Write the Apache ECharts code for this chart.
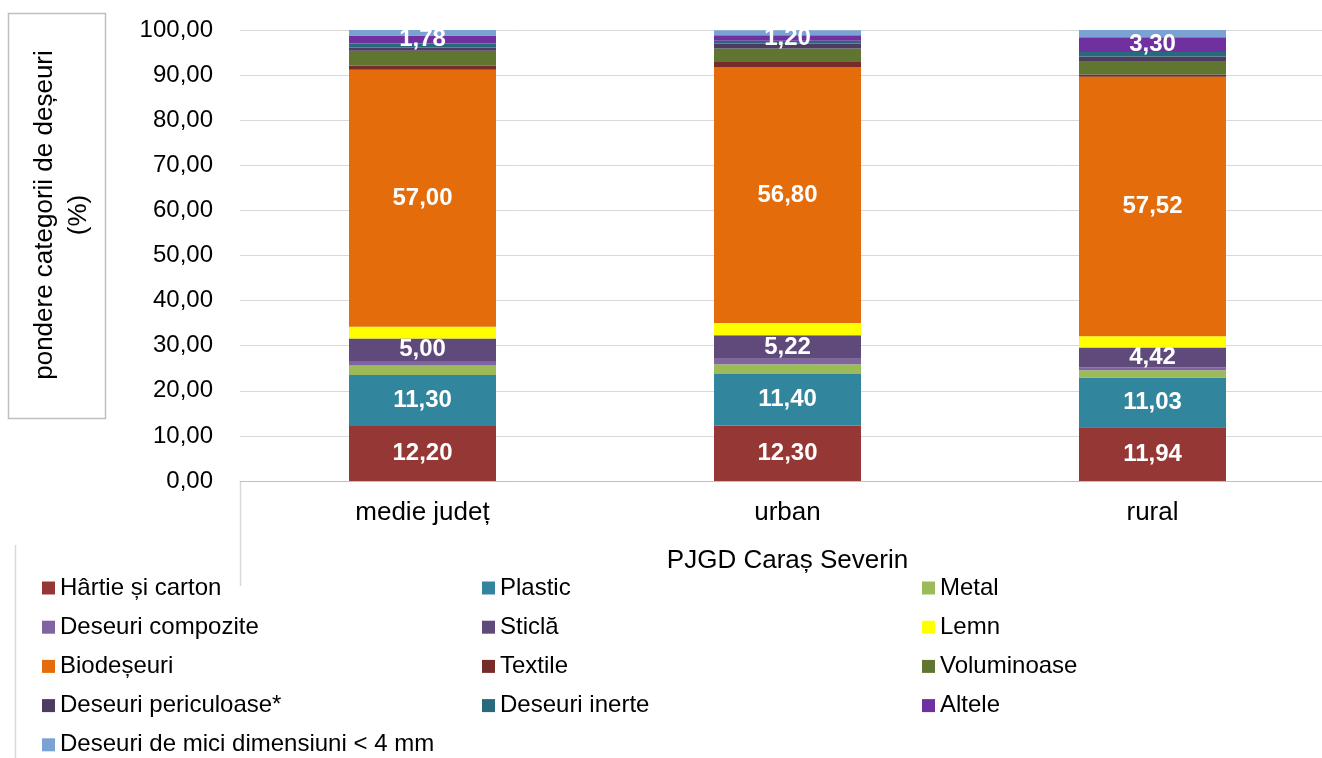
<!DOCTYPE html>
<html>
<head>
<meta charset="utf-8">
<script src="https://cdn.jsdelivr.net/npm/echarts@6/dist/echarts.min.js"></script>
<style>html,body{margin:0;padding:0;background:#fff;overflow:hidden}#c{width:1335px;height:758px}</style>
</head>
<body>
<div id="c"></div>
<script>
const categories = ['medie județ', 'urban', 'rural'];
const seriesNames = ['Hârtie și carton', 'Plastic', 'Metal', 'Deseuri compozite', 'Sticlă', 'Lemn', 'Biodeșeuri', 'Textile', 'Voluminoase', 'Deseuri periculoase*', 'Deseuri inerte', 'Altele', 'Deseuri de mici dimensiuni < 4 mm'];
const hartie = [12.20, 12.30, 11.94];
const plastic = [11.30, 11.40, 11.03];
const metal = [2.1, 2.2, 1.6];
const compozite = [1.0, 1.2, 0.6];
const sticla = [5.00, 5.22, 4.42];
const lemn = [2.6, 2.7, 2.5];
const biodeseuri = [57.00, 56.80, 57.52];
const textile = [0.9, 1.1, 0.5];
const voluminoase = [3.3, 3.0, 3.0];
const periculoase = [0.7, 1.1, 1.0];
const inerte = [0.9, 0.6, 1.0];
const altele = [1.78, 1.20, 3.30];
const mici = [1.2, 1.1, 1.6];
const yTicks = [0, 10, 20, 30, 40, 50, 60, 70, 80, 90, 100];

const values = [hartie, plastic, metal, compozite, sticla, lemn, biodeseuri, textile, voluminoase, periculoase, inerte, altele, mici];
const colors = ['#953735', '#31859C', '#9BBB59', '#8064A2', '#604A7B', '#FFFF00', '#E46C0A', '#772C2A', '#5F7530', '#4D3B62', '#276A7B', '#7030A0', '#7AA3D3'];
const labelled = ['Hârtie și carton', 'Plastic', 'Sticlă', 'Biodeșeuri', 'Altele'];
const FONT = "'Liberation Sans', Arial, sans-serif";
const fmt = v => Number(v).toFixed(2).replace('.', ',');

const series = seriesNames.map((name, i) => ({
  name: name,
  type: 'bar',
  stack: 'total',
  barWidth: 147,
  data: values[i],
  itemStyle: { color: colors[i] },
  label: {
    show: labelled.indexOf(name) >= 0,
    position: 'inside',
    color: '#fff',
    fontWeight: 'bold',
    fontSize: 24,
    fontFamily: FONT,
    formatter: p => fmt(p.value)
  },
  emphasis: { disabled: true }
}));

const legendCols = [
  { left: 42, data: [seriesNames[0], seriesNames[3], seriesNames[6], seriesNames[9], seriesNames[12]] },
  { left: 482, data: [seriesNames[1], seriesNames[4], seriesNames[7], seriesNames[10]] },
  { left: 922, data: [seriesNames[2], seriesNames[5], seriesNames[8], seriesNames[11]] }
];

const chart = echarts.init(document.getElementById('c'));
chart.setOption({
  animation: false,
  backgroundColor: '#fff',
  textStyle: { fontFamily: FONT },
  grid: { left: 240, top: 30, right: 0, height: 451, containLabel: false },
  legend: legendCols.map(c => ({
    orient: 'vertical',
    left: c.left,
    top: 575,
    padding: 0,
    itemWidth: 13,
    itemHeight: 13,
    itemGap: 13.2,
    icon: 'rect',
    selectedMode: false,
    data: c.data,
    textStyle: { fontSize: 24, lineHeight: 26, color: '#000', fontFamily: FONT }
  })),
  xAxis: {
    type: 'category',
    data: categories,
    name: 'PJGD Caraș Severin',
    nameLocation: 'middle',
    nameGap: 67,
    nameTextStyle: { fontSize: 26, color: '#000', fontFamily: FONT },
    axisLine: { lineStyle: { color: '#bfbfbf', width: 1 } },
    axisTick: { show: false },
    axisLabel: { fontSize: 26, color: '#000', margin: 19, fontFamily: FONT }
  },
  yAxis: {
    type: 'value',
    min: 0,
    max: 100,
    interval: 10,
    axisLine: { show: false },
    axisTick: { show: false },
    splitLine: { lineStyle: { color: '#d9d9d9', width: 1 } },
    axisLabel: { fontSize: 24, color: '#000', margin: 27, fontFamily: FONT, formatter: v => fmt(v) }
  },
  graphic: [
    { type: 'rect', shape: { x: 8.5, y: 13.5, width: 97, height: 405 }, style: { fill: 'none', stroke: '#bfbfbf', lineWidth: 1.5 }, z: 1 },
    { type: 'text', x: 62, y: 215, rotation: Math.PI / 2,
      style: { text: 'pondere categorii de deșeuri\n(%)', lineHeight: 34, fill: '#000', font: "26px 'Liberation Sans', Arial, sans-serif", textAlign: 'center', textVerticalAlign: 'middle' }, z: 2 },
    { type: 'line', shape: { x1: 240.5, y1: 481, x2: 240.5, y2: 586 }, style: { stroke: '#d9d9d9', lineWidth: 1.5 } },
    { type: 'line', shape: { x1: 15.5, y1: 545, x2: 15.5, y2: 758 }, style: { stroke: '#d9d9d9', lineWidth: 1.5 } }
  ],
  series: series
});
</script>
</body>
</html>
